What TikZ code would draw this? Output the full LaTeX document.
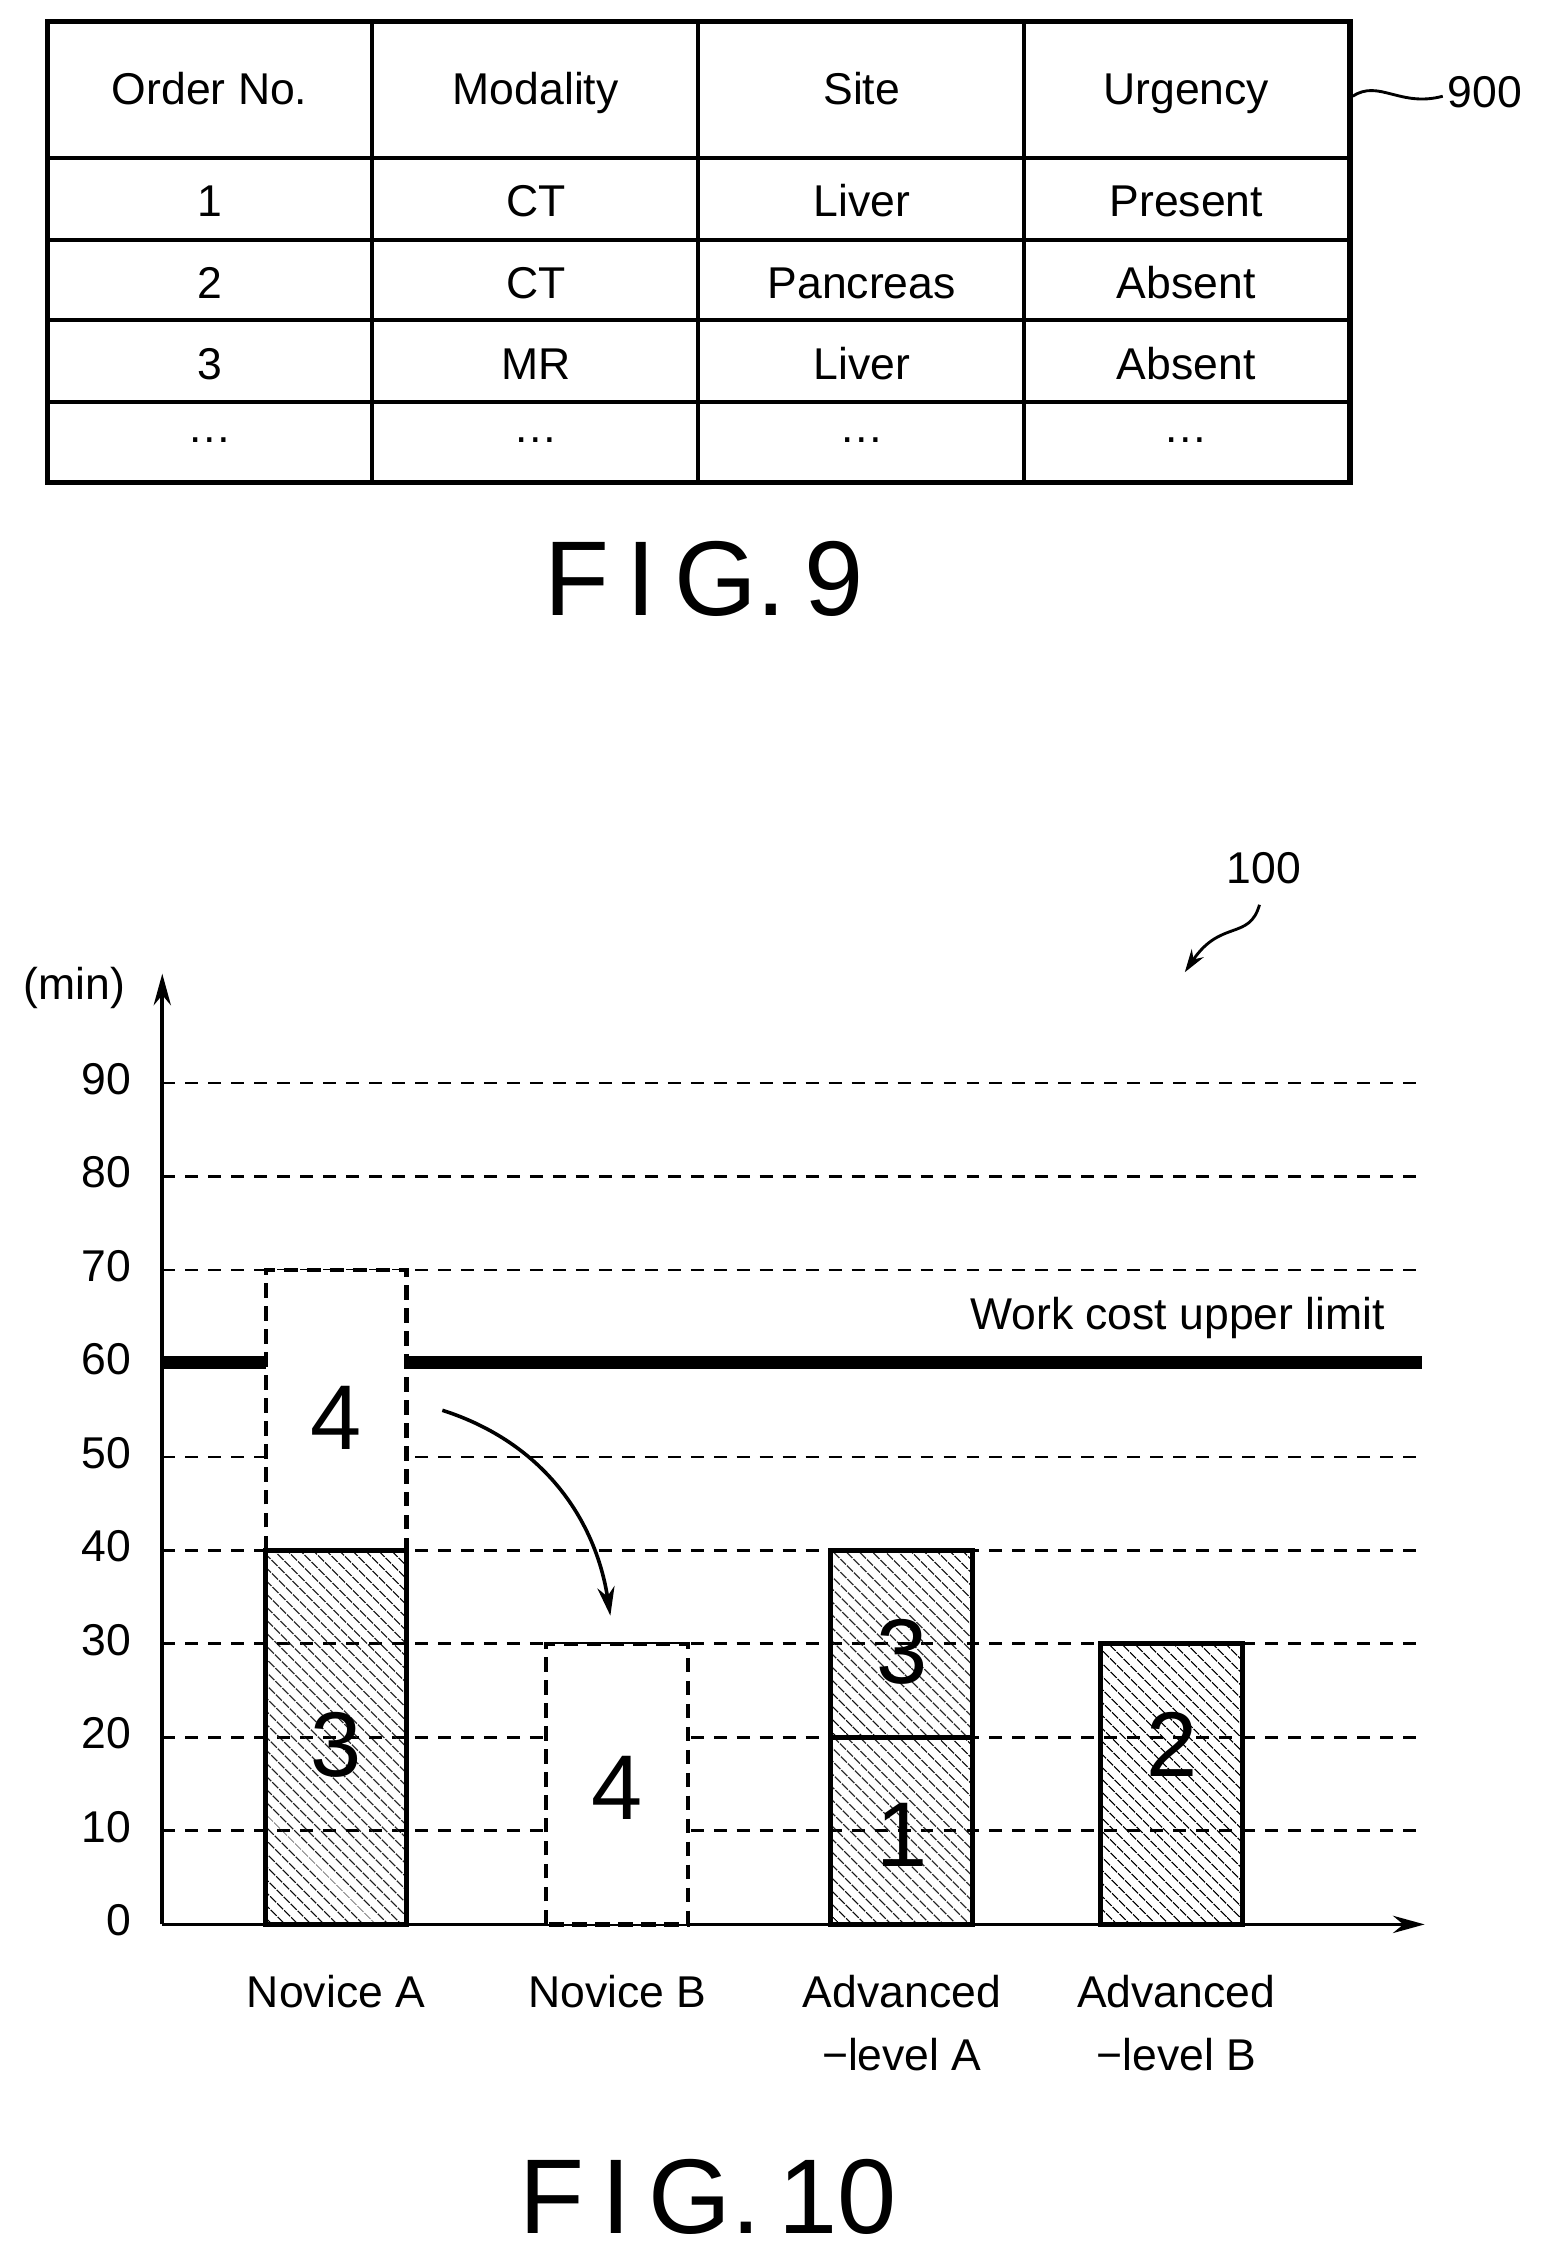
\documentclass[tikz,border=0pt]{standalone}
\usepackage{fontspec}
\setmainfont{Liberation Sans}
\usetikzlibrary{patterns.meta,arrows.meta,decorations.pathmorphing}
\begin{document}
\begin{tikzpicture}[x=1pt,y=-1pt,
  tt/.style={font=\fontsize{31}{44}\selectfont,text height=22pt,text depth=6pt},
  big/.style={font=\fontsize{64}{64}\selectfont},
  fig/.style={font=\fontsize{74}{74}\selectfont},
  hat/.style={draw,line width=3.5pt,pattern={Lines[angle=-45,distance=6.5pt,line width=1pt]}},
  dbox/.style={draw,line width=3pt,dash pattern=on 10pt off 6pt,fill=white},
  grid/.style={line width=2pt,dash pattern=on 9pt off 7pt}]
\useasboundingbox (0,0) rectangle (1080,1573);
% table
\draw[line width=2.5pt] (259,15)--(259,336) (486,15)--(486,336) (713,15)--(713,336)
  (33,110)--(940,110) (33,167)--(940,167) (33,223)--(940,223) (33,280)--(940,280);
\draw[line width=4pt] (33,15) rectangle (940,336);
\node[tt] (h1) at (146,65) {Order No.};
\node[tt] (h2) at (373,65) {Modality};
\node[tt] (h3) at (600,65) {Site};
\node[tt] (h4) at (826,65) {Urgency};
\foreach \y/\a/\b/\c/\d in {143/1/CT/Liver/Present,200/2/CT/Pancreas/Absent,256/3/MR/Liver/Absent}{
 \node[tt] at (146,\y) {\a}; \node[tt] at (373,\y) {\b};
 \node[tt] at (600,\y) {\c}; \node[tt] at (826,\y) {\d};}
\foreach \x in {146,373,600,826} \node[tt] at (\x,300) {…};
\node[tt] (l900) at (1034,67) {900};
\draw[line width=2pt] (942,67) .. controls (960,55) and (975,75) .. (l900.west);
\node[fig] (f9) at (490,403) {F\,I\,G.\,9};
% chart
\foreach \v in {1,...,9}{\draw[grid] (113,{1340-65.1*\v})--(990,{1340-65.1*\v});}
\foreach \v in {0,...,9}{\node[tt,anchor=east] at (95,{1340-65.1*\v}) {\the\numexpr\v*10\relax};}
\node[tt] (min) at (52,688) {(min)};
\draw[line width=9pt] (113,949)--(990,949);
\node[tt] (wc) at (820,918) {Work cost upper limit};
\draw[line width=2.5pt,-{Stealth[length=22pt,width=12pt]}] (113,1340)--(113,678);
\draw[line width=2.5pt,-{Stealth[length=22pt,width=12pt]}] (113,1340)--(992,1340);
% bars
\draw[dbox] (185,1079.6) rectangle (283,884.3);
\node[big] (a4) at (234,987) {4};
\draw[hat] (185,1340) rectangle (283,1079.6);
\node[big] (a3) at (234,1215) {3};
\draw[dbox] (380,1340) rectangle (479,1144.7);
\node[big] (b4) at (430,1245) {4};
\draw[hat] (578,1340) rectangle (677,1209.8);
\draw[hat] (578,1209.8) rectangle (677,1079.6);
\node[big] at (628,1150) {3};
\node[big] at (628,1278) {1};
\draw[hat] (766,1340) rectangle (865,1144.7);
\node[big] at (816,1215) {2};
\coordinate (s) at (308,982); \coordinate (e) at (425,1125);
\draw[line width=2.5pt,-{Stealth[length=20pt,width=12pt]}] (s) .. controls (380,1005) and (415,1060) .. (e);
\node[tt] (l100) at (880,607) {100};
\coordinate (t) at (825,677);
\draw[line width=2pt,-{Stealth[length=16pt,width=10pt]}] (877,630) .. controls (870,655) and (850,640) .. (t);
\node[tt] at (234,1390) {Novice A};
\node[tt] at (430,1390) {Novice B};
\node[tt] at (628,1390) {Advanced};
\node[tt] at (628,1434) {−level A};
\node[tt] at (819,1390) {Advanced};
\node[tt] at (819,1434) {−level B};
\node[fig] (f10) at (493,1530) {F\,I\,G.\,10};
\end{tikzpicture}
\end{document}
